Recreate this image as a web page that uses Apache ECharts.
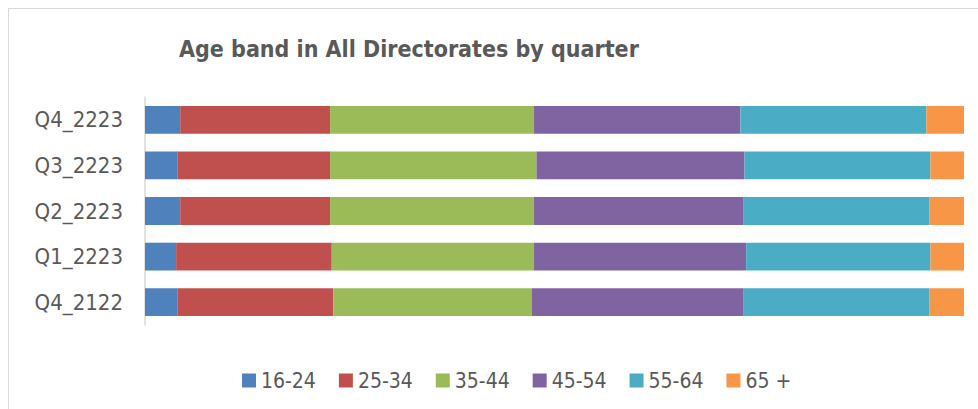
<!DOCTYPE html>
<html>
<head>
<meta charset="utf-8">
<script src="https://cdn.jsdelivr.net/npm/echarts@6/dist/echarts.min.js"></script>
<style>
  html, body { margin: 0; padding: 0; background: #fff; }
  #frame { position: absolute; left: 8px; top: 8px; width: 990px; height: 420px; border: 1px solid #d9d9d9; box-sizing: border-box; }
  #chart { position: absolute; left: 0; top: 0; width: 978px; height: 409px; }
</style>
</head>
<body>
<div id="frame"></div>
<div id="chart"></div>
<script>
// quarters, bottom to top
var quarters = ['Q4_2122', 'Q1_2223', 'Q2_2223', 'Q3_2223', 'Q4_2223'];
var bands = ['16-24', '25-34', '35-44', '45-54', '55-64', '65 +'];
var bandColors = ['#4f81bd', '#c0504d', '#9bbb59', '#8064a2', '#4bacc6', '#f79646'];

// share of staff (%) per band, same order as quarters
var age1624 = [4.0, 3.8, 4.3, 4.0, 4.3];
var age2534 = [19.0, 19.0, 18.3, 18.6, 18.3];
var age3544 = [24.2, 24.7, 24.9, 25.2, 24.9];
var age4554 = [25.9, 25.9, 25.6, 25.4, 25.2];
var age5564 = [22.7, 22.5, 22.7, 22.7, 22.7];
var age65 = [4.2, 4.1, 4.2, 4.1, 4.6];

var seriesValues = [age1624, age2534, age3544, age4554, age5564, age65];

var chart = echarts.init(document.getElementById('chart'), null, { renderer: 'svg' });
var font = "'DejaVu Sans Condensed', 'Liberation Sans Narrow', sans-serif";

chart.setOption({
  animation: false,
  title: {
    text: 'Age band in All Directorates by quarter',
    left: 174,
    top: 32,
    textStyle: { color: '#595959', fontSize: 23, fontWeight: 'bold', fontFamily: font }
  },
  legend: {
    data: bands,
    top: 365,
    left: 237,
    itemWidth: 14,
    itemHeight: 14,
    itemGap: 23,
    icon: 'rect',
    textStyle: { color: '#595959', fontSize: 21, fontFamily: font }
  },
  grid: { left: 145, right: 14, top: 97, bottom: 84 },
  xAxis: {
    type: 'value',
    min: 0,
    max: 100,
    show: false
  },
  yAxis: {
    type: 'category',
    data: quarters,
    axisLine: { lineStyle: { color: '#d9d9d9', width: 1.5 } },
    axisTick: { show: false },
    axisLabel: { color: '#595959', fontSize: 22, fontFamily: font, margin: 22 }
  },
  series: bands.map(function(name, i) {
    return {
      name: name,
      type: 'bar',
      stack: 'total',
      barWidth: '61%',
      data: seriesValues[i],
      itemStyle: { color: bandColors[i] }
    };
  })
});
</script>
</body>
</html>
